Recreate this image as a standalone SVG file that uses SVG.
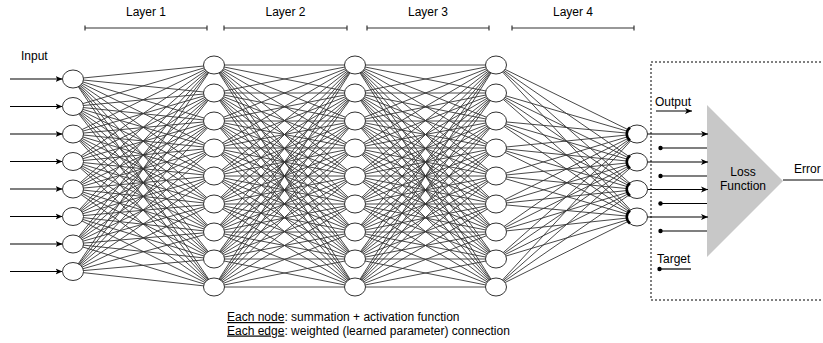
<svg xmlns="http://www.w3.org/2000/svg" width="823" height="343" viewBox="0 0 823 343">
<style>
text{font-family:"Liberation Sans",Arial,Helvetica,sans-serif;font-size:12px;fill:#000}
.edge{fill:none;stroke:#333;stroke-width:0.9}
.node{fill:#fff;stroke:#333;stroke-width:1}
.bar{fill:none;stroke:#333;stroke-width:1.2}
.arr{fill:none;stroke:#000;stroke-width:1.2}
.cres{fill:none;stroke:#000;stroke-width:2.6}
</style>
<defs>
<marker id="ah" markerUnits="userSpaceOnUse" markerWidth="8" markerHeight="7" refX="7" refY="3.5" orient="auto">
<path d="M0 0.5L7 3.5L0 6.5L1.8 3.5z" fill="#000"/>
</marker>
</defs>
<g id="layer-labels">
<text x="146" y="16" text-anchor="middle">Layer 1</text>
<path class="bar" d="M85 28H207M85 25.5V30.5M207 25.5V30.5"/>
<text x="285.5" y="16" text-anchor="middle">Layer 2</text>
<path class="bar" d="M224 28H347M224 25.5V30.5M347 25.5V30.5"/>
<text x="428" y="16" text-anchor="middle">Layer 3</text>
<path class="bar" d="M367 28H489M367 25.5V30.5M489 25.5V30.5"/>
<text x="573" y="16" text-anchor="middle">Layer 4</text>
<path class="bar" d="M512 28H634M512 25.5V30.5M634 25.5V30.5"/>
</g>
<g id="connectors">
<path class="edge" d="
M73 79L214 65M73 79L214 93M73 79L214 121M73 79L214 148M73 79L214 176M73 79L214 204M73 79L214 232M73 79L214 259M73 79L214 287
M73 106.5L214 65M73 106.5L214 93M73 106.5L214 121M73 106.5L214 148M73 106.5L214 176M73 106.5L214 204M73 106.5L214 232M73 106.5L214 259M73 106.5L214 287
M73 134L214 65M73 134L214 93M73 134L214 121M73 134L214 148M73 134L214 176M73 134L214 204M73 134L214 232M73 134L214 259M73 134L214 287
M73 161.5L214 65M73 161.5L214 93M73 161.5L214 121M73 161.5L214 148M73 161.5L214 176M73 161.5L214 204M73 161.5L214 232M73 161.5L214 259M73 161.5L214 287
M73 189L214 65M73 189L214 93M73 189L214 121M73 189L214 148M73 189L214 176M73 189L214 204M73 189L214 232M73 189L214 259M73 189L214 287
M73 216.5L214 65M73 216.5L214 93M73 216.5L214 121M73 216.5L214 148M73 216.5L214 176M73 216.5L214 204M73 216.5L214 232M73 216.5L214 259M73 216.5L214 287
M73 244L214 65M73 244L214 93M73 244L214 121M73 244L214 148M73 244L214 176M73 244L214 204M73 244L214 232M73 244L214 259M73 244L214 287
M73 271.5L214 65M73 271.5L214 93M73 271.5L214 121M73 271.5L214 148M73 271.5L214 176M73 271.5L214 204M73 271.5L214 232M73 271.5L214 259M73 271.5L214 287"/>
<path class="edge" d="
M214 65L355 65M214 65L355 93M214 65L355 121M214 65L355 148M214 65L355 176M214 65L355 204M214 65L355 232M214 65L355 259M214 65L355 287
M214 93L355 65M214 93L355 93M214 93L355 121M214 93L355 148M214 93L355 176M214 93L355 204M214 93L355 232M214 93L355 259M214 93L355 287
M214 121L355 65M214 121L355 93M214 121L355 121M214 121L355 148M214 121L355 176M214 121L355 204M214 121L355 232M214 121L355 259M214 121L355 287
M214 148L355 65M214 148L355 93M214 148L355 121M214 148L355 148M214 148L355 176M214 148L355 204M214 148L355 232M214 148L355 259M214 148L355 287
M214 176L355 65M214 176L355 93M214 176L355 121M214 176L355 148M214 176L355 176M214 176L355 204M214 176L355 232M214 176L355 259M214 176L355 287
M214 204L355 65M214 204L355 93M214 204L355 121M214 204L355 148M214 204L355 176M214 204L355 204M214 204L355 232M214 204L355 259M214 204L355 287
M214 232L355 65M214 232L355 93M214 232L355 121M214 232L355 148M214 232L355 176M214 232L355 204M214 232L355 232M214 232L355 259M214 232L355 287
M214 259L355 65M214 259L355 93M214 259L355 121M214 259L355 148M214 259L355 176M214 259L355 204M214 259L355 232M214 259L355 259M214 259L355 287
M214 287L355 65M214 287L355 93M214 287L355 121M214 287L355 148M214 287L355 176M214 287L355 204M214 287L355 232M214 287L355 259M214 287L355 287"/>
<path class="edge" d="
M355 65L496 65M355 65L496 93M355 65L496 121M355 65L496 148M355 65L496 176M355 65L496 204M355 65L496 232M355 65L496 259M355 65L496 287
M355 93L496 65M355 93L496 93M355 93L496 121M355 93L496 148M355 93L496 176M355 93L496 204M355 93L496 232M355 93L496 259M355 93L496 287
M355 121L496 65M355 121L496 93M355 121L496 121M355 121L496 148M355 121L496 176M355 121L496 204M355 121L496 232M355 121L496 259M355 121L496 287
M355 148L496 65M355 148L496 93M355 148L496 121M355 148L496 148M355 148L496 176M355 148L496 204M355 148L496 232M355 148L496 259M355 148L496 287
M355 176L496 65M355 176L496 93M355 176L496 121M355 176L496 148M355 176L496 176M355 176L496 204M355 176L496 232M355 176L496 259M355 176L496 287
M355 204L496 65M355 204L496 93M355 204L496 121M355 204L496 148M355 204L496 176M355 204L496 204M355 204L496 232M355 204L496 259M355 204L496 287
M355 232L496 65M355 232L496 93M355 232L496 121M355 232L496 148M355 232L496 176M355 232L496 204M355 232L496 232M355 232L496 259M355 232L496 287
M355 259L496 65M355 259L496 93M355 259L496 121M355 259L496 148M355 259L496 176M355 259L496 204M355 259L496 232M355 259L496 259M355 259L496 287
M355 287L496 65M355 287L496 93M355 287L496 121M355 287L496 148M355 287L496 176M355 287L496 204M355 287L496 232M355 287L496 259M355 287L496 287"/>
<path class="edge" d="
M496 65L637 134M496 65L637 162M496 65L637 189.5M496 65L637 217
M496 93L637 134M496 93L637 162M496 93L637 189.5M496 93L637 217
M496 121L637 134M496 121L637 162M496 121L637 189.5M496 121L637 217
M496 148L637 134M496 148L637 162M496 148L637 189.5M496 148L637 217
M496 176L637 134M496 176L637 162M496 176L637 189.5M496 176L637 217
M496 204L637 134M496 204L637 162M496 204L637 189.5M496 204L637 217
M496 232L637 134M496 232L637 162M496 232L637 189.5M496 232L637 217
M496 259L637 134M496 259L637 162M496 259L637 189.5M496 259L637 217
M496 287L637 134M496 287L637 162M496 287L637 189.5M496 287L637 217"/>
<g id="input-arrows">
<line class="arr" x1="10" y1="79" x2="62.5" y2="79" marker-end="url(#ah)"/>
<line class="arr" x1="10" y1="106.5" x2="62.5" y2="106.5" marker-end="url(#ah)"/>
<line class="arr" x1="10" y1="134" x2="62.5" y2="134" marker-end="url(#ah)"/>
<line class="arr" x1="10" y1="161.5" x2="62.5" y2="161.5" marker-end="url(#ah)"/>
<line class="arr" x1="10" y1="189" x2="62.5" y2="189" marker-end="url(#ah)"/>
<line class="arr" x1="10" y1="216.5" x2="62.5" y2="216.5" marker-end="url(#ah)"/>
<line class="arr" x1="10" y1="244" x2="62.5" y2="244" marker-end="url(#ah)"/>
<line class="arr" x1="10" y1="271.5" x2="62.5" y2="271.5" marker-end="url(#ah)"/>
</g>
</g>
<g id="input-layer">
<ellipse class="node" cx="73" cy="79" rx="10.5" ry="9"/>
<ellipse class="node" cx="73" cy="106.5" rx="10.5" ry="9"/>
<ellipse class="node" cx="73" cy="134" rx="10.5" ry="9"/>
<ellipse class="node" cx="73" cy="161.5" rx="10.5" ry="9"/>
<ellipse class="node" cx="73" cy="189" rx="10.5" ry="9"/>
<ellipse class="node" cx="73" cy="216.5" rx="10.5" ry="9"/>
<ellipse class="node" cx="73" cy="244" rx="10.5" ry="9"/>
<ellipse class="node" cx="73" cy="271.5" rx="10.5" ry="9"/>
</g>
<g id="hidden-layer-1">
<ellipse class="node" cx="214" cy="65" rx="10.5" ry="9"/>
<ellipse class="node" cx="214" cy="93" rx="10.5" ry="9"/>
<ellipse class="node" cx="214" cy="121" rx="10.5" ry="9"/>
<ellipse class="node" cx="214" cy="148" rx="10.5" ry="9"/>
<ellipse class="node" cx="214" cy="176" rx="10.5" ry="9"/>
<ellipse class="node" cx="214" cy="204" rx="10.5" ry="9"/>
<ellipse class="node" cx="214" cy="232" rx="10.5" ry="9"/>
<ellipse class="node" cx="214" cy="259" rx="10.5" ry="9"/>
<ellipse class="node" cx="214" cy="287" rx="10.5" ry="9"/>
</g>
<g id="hidden-layer-2">
<ellipse class="node" cx="355" cy="65" rx="10.5" ry="9"/>
<ellipse class="node" cx="355" cy="93" rx="10.5" ry="9"/>
<ellipse class="node" cx="355" cy="121" rx="10.5" ry="9"/>
<ellipse class="node" cx="355" cy="148" rx="10.5" ry="9"/>
<ellipse class="node" cx="355" cy="176" rx="10.5" ry="9"/>
<ellipse class="node" cx="355" cy="204" rx="10.5" ry="9"/>
<ellipse class="node" cx="355" cy="232" rx="10.5" ry="9"/>
<ellipse class="node" cx="355" cy="259" rx="10.5" ry="9"/>
<ellipse class="node" cx="355" cy="287" rx="10.5" ry="9"/>
</g>
<g id="hidden-layer-3">
<ellipse class="node" cx="496" cy="65" rx="10.5" ry="9"/>
<ellipse class="node" cx="496" cy="93" rx="10.5" ry="9"/>
<ellipse class="node" cx="496" cy="121" rx="10.5" ry="9"/>
<ellipse class="node" cx="496" cy="148" rx="10.5" ry="9"/>
<ellipse class="node" cx="496" cy="176" rx="10.5" ry="9"/>
<ellipse class="node" cx="496" cy="204" rx="10.5" ry="9"/>
<ellipse class="node" cx="496" cy="232" rx="10.5" ry="9"/>
<ellipse class="node" cx="496" cy="259" rx="10.5" ry="9"/>
<ellipse class="node" cx="496" cy="287" rx="10.5" ry="9"/>
</g>
<g id="loss-box">
<rect x="651" y="62" width="200" height="238" fill="none" stroke="#000" stroke-width="1" stroke-dasharray="2 2"/>
<polygon points="707,105 783,181 707,257" fill="#c8c8c8"/>
<text x="743" y="176" text-anchor="middle">Loss</text>
<text x="743" y="189.5" text-anchor="middle">Function</text>
<line class="arr" x1="783" y1="180" x2="823" y2="180"/>
<text x="794" y="173">Error</text>
<text x="655" y="106">Output</text>
<line class="arr" x1="656" y1="111" x2="692" y2="111" marker-end="url(#ah)"/>
<text x="657" y="263">Target</text>
<circle cx="659.5" cy="269" r="2.2" fill="#000"/>
<line class="arr" x1="659.5" y1="269" x2="691" y2="269"/>
<line class="arr" x1="647" y1="134" x2="708" y2="134" marker-end="url(#ah)"/>
<line class="arr" x1="647" y1="162" x2="708" y2="162" marker-end="url(#ah)"/>
<line class="arr" x1="647" y1="189.5" x2="708" y2="189.5" marker-end="url(#ah)"/>
<line class="arr" x1="647" y1="217" x2="708" y2="217" marker-end="url(#ah)"/>
<circle cx="660.5" cy="148" r="2.2" fill="#000"/>
<line class="arr" x1="660.5" y1="148" x2="707" y2="148"/>
<circle cx="660.5" cy="176" r="2.2" fill="#000"/>
<line class="arr" x1="660.5" y1="176" x2="707" y2="176"/>
<circle cx="660.5" cy="203.5" r="2.2" fill="#000"/>
<line class="arr" x1="660.5" y1="203.5" x2="707" y2="203.5"/>
<circle cx="660.5" cy="231" r="2.2" fill="#000"/>
<line class="arr" x1="660.5" y1="231" x2="707" y2="231"/>
</g>
<g id="output-layer">
<ellipse class="node" cx="637" cy="134" rx="10.5" ry="9"/>
<path class="cres" d="M630 127.5A10.5 9 0 0 0 630 140.5"/>
<ellipse class="node" cx="637" cy="162" rx="10.5" ry="9"/>
<path class="cres" d="M630 155.5A10.5 9 0 0 0 630 168.5"/>
<ellipse class="node" cx="637" cy="189.5" rx="10.5" ry="9"/>
<path class="cres" d="M630 183A10.5 9 0 0 0 630 196"/>
<ellipse class="node" cx="637" cy="217" rx="10.5" ry="9"/>
<path class="cres" d="M630 210.5A10.5 9 0 0 0 630 223.5"/>
</g>
<g id="labels">
<text x="21" y="60">Input</text>
<text x="227" y="321" font-size="11.5"><tspan text-decoration="underline">Each node</tspan>: summation + activation function</text>
<text x="227" y="334.5" font-size="11.5"><tspan text-decoration="underline">Each edge</tspan>: weighted (learned parameter) connection</text>
</g>
</svg>
